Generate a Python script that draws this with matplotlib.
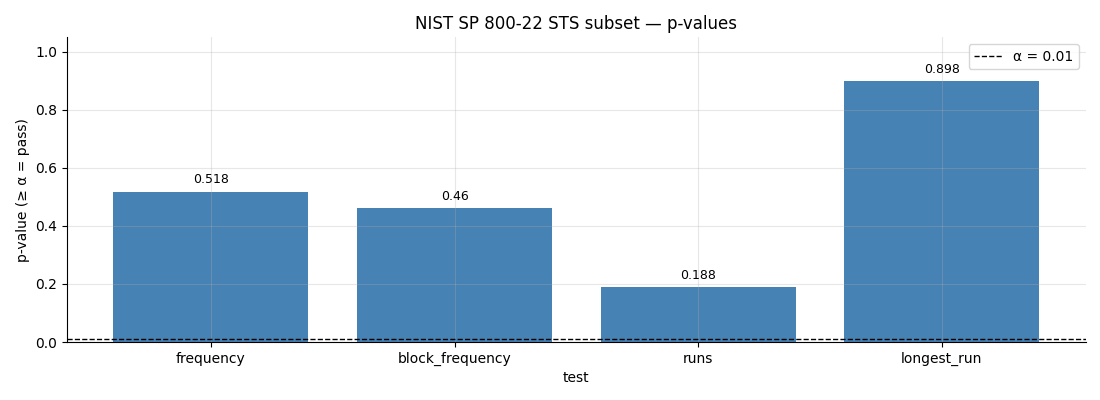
import matplotlib
matplotlib.use("Agg")
import matplotlib.pyplot as plt

tests = ["frequency", "block_frequency", "runs", "longest_run"]
p_values = [0.518, 0.46, 0.188, 0.898]
alpha = 0.01

fig, ax = plt.subplots(figsize=(11, 4), dpi=100)
bars = ax.bar(tests, p_values, color="steelblue", width=0.8)
ax.axhline(alpha, color="black", linestyle="--", linewidth=1, label=f"α = {alpha}")
for b, v in zip(bars, p_values):
    ax.annotate(f"{v:g}", (b.get_x() + b.get_width() / 2, v),
                xytext=(0, 4), textcoords="offset points",
                ha="center", va="bottom", fontsize=9)

ax.set_ylim(0, 1.05)
ax.set_title("NIST SP 800-22 STS subset — p-values")
ax.set_xlabel("test")
ax.set_ylabel("p-value (≥ α = pass)")
ax.grid(True, alpha=0.3)
ax.spines["top"].set_visible(False)
ax.spines["right"].set_visible(False)
ax.legend(loc="upper right")

fig.subplots_adjust(left=0.061, right=0.987, top=0.907, bottom=0.145)
fig.savefig("out.png")
